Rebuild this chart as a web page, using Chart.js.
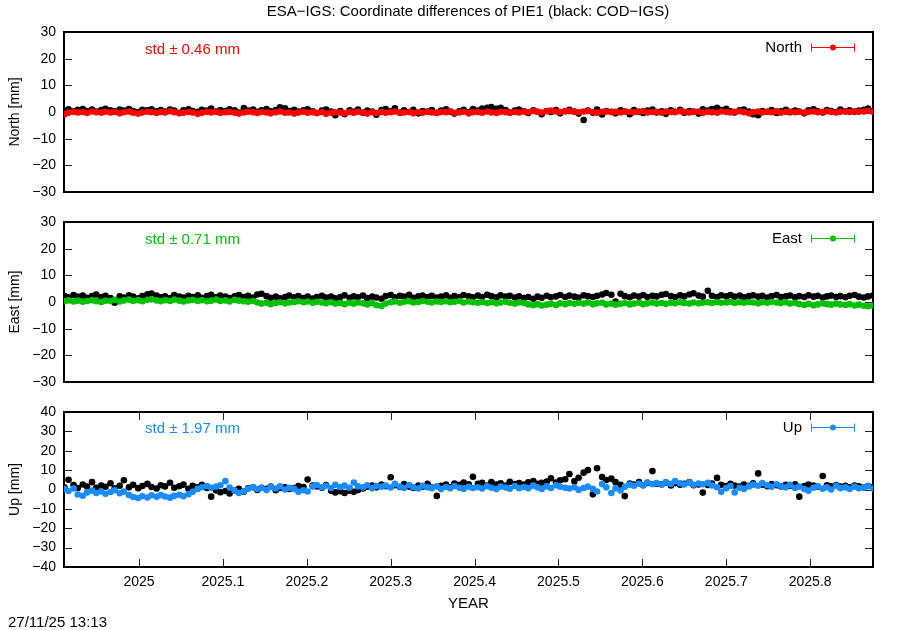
<!DOCTYPE html>
<html><head><meta charset="utf-8">
<script src="https://cdn.jsdelivr.net/npm/chart.js@4.4.1/dist/chart.umd.min.js"></script>
<style>
html,body{margin:0;padding:0;background:#fff;}
#wrap{position:relative;width:900px;height:630px;overflow:hidden;font-family:"Liberation Sans",Arial,sans-serif;font-size:15px;color:#000;}
canvas{position:absolute;left:0;}
.t{position:absolute;white-space:nowrap;line-height:16px;}
</style></head><body>
<div id="wrap">
<canvas id="c1" width="900" height="209" style="top:0px"></canvas>
<canvas id="c2" width="900" height="194" style="top:205px"></canvas>
<canvas id="c3" width="900" height="235" style="top:395px"></canvas>
<div class="t" style="left:468px;top:3px;transform:translateX(-50%)">ESA−IGS: Coordinate differences of PIE1 (black: COD−IGS)</div>
<div class="t" style="left:145px;top:41px;color:#ff0000">std ± 0.46 mm</div>
<div class="t" style="left:145px;top:231px;color:#00c000">std ± 0.71 mm</div>
<div class="t" style="left:145px;top:420px;color:#1a8cff">std ± 1.97 mm</div>
<div class="t" style="right:98px;top:39px">North</div>
<div class="t" style="right:98px;top:230px">East</div>
<div class="t" style="right:98px;top:419px">Up</div>
<div class="t" style="left:8px;top:614px">27/11/25 13:13</div>
</div>
<script>
const years = [
2024.911,2024.916,2024.922,2024.927,2024.933,2024.938,2024.944,2024.949,2024.955,2024.960,
2024.966,2024.971,2024.977,2024.982,2024.988,2024.993,2024.999,2025.004,2025.010,2025.015,
2025.021,2025.026,2025.031,2025.037,2025.042,2025.048,2025.053,2025.059,2025.064,2025.070,
2025.075,2025.081,2025.086,2025.092,2025.097,2025.103,2025.108,2025.114,2025.119,2025.125,
2025.130,2025.136,2025.141,2025.146,2025.152,2025.157,2025.163,2025.168,2025.174,2025.179,
2025.185,2025.190,2025.196,2025.201,2025.207,2025.212,2025.218,2025.223,2025.229,2025.234,
2025.240,2025.245,2025.251,2025.256,2025.261,2025.267,2025.272,2025.278,2025.283,2025.289,
2025.294,2025.300,2025.305,2025.311,2025.316,2025.322,2025.327,2025.333,2025.338,2025.344,
2025.349,2025.355,2025.360,2025.366,2025.371,2025.376,2025.382,2025.387,2025.393,2025.398,
2025.404,2025.409,2025.415,2025.420,2025.426,2025.431,2025.437,2025.442,2025.448,2025.453,
2025.459,2025.464,2025.470,2025.475,2025.480,2025.486,2025.491,2025.497,2025.502,2025.508,
2025.513,2025.519,2025.524,2025.530,2025.535,2025.541,2025.546,2025.552,2025.557,2025.563,
2025.568,2025.574,2025.579,2025.585,2025.590,2025.596,2025.601,2025.606,2025.612,2025.617,
2025.623,2025.628,2025.634,2025.639,2025.645,2025.650,2025.656,2025.661,2025.667,2025.672,
2025.678,2025.683,2025.689,2025.694,2025.700,2025.705,2025.710,2025.716,2025.721,2025.727,
2025.732,2025.738,2025.743,2025.749,2025.754,2025.760,2025.765,2025.771,2025.776,2025.782,
2025.787,2025.793,2025.798,2025.804,2025.809,2025.815,2025.820,2025.825,2025.831,2025.836,
2025.842,2025.847,2025.853,2025.858,2025.864,2025.869,2025.875];

const esaNorth = [
-0.9,-0.3,0.1,-0.2,0.0,-0.4,0.2,-0.1,-0.3,0.1,
-0.2,0.0,-0.5,-0.1,0.2,-0.3,-0.6,-0.2,0.1,-0.1,
-0.4,0.0,-0.2,0.3,-0.1,-0.5,-0.3,0.0,-0.2,-0.7,
-0.3,0.1,-0.2,0.2,-0.4,-0.1,0.0,-0.3,-0.6,-0.2,
0.1,-0.1,-0.4,0.0,-0.2,-0.5,-0.1,0.2,-0.3,-0.2,
-0.6,-0.2,0.1,-0.3,-0.1,-0.4,0.0,-0.7,-0.3,-0.1,
-0.2,-0.5,0.0,-0.3,0.1,-0.2,-0.6,-0.1,-0.4,0.0,
-0.3,-0.1,0.2,-0.4,-0.2,0.0,-0.5,-0.1,-0.3,0.1,
-0.2,-0.4,0.0,-0.1,0.3,-0.3,-0.2,0.1,-0.5,-0.1,
0.0,-0.3,0.2,-0.2,-0.4,0.1,-0.1,-0.3,0.0,-0.2,
0.2,-0.1,0.4,0.1,-0.2,0.3,0.5,0.2,0.0,0.4,
0.3,0.1,-0.1,0.2,0.4,0.0,-0.3,0.1,0.2,-0.1,
0.1,-0.2,0.3,0.0,-0.1,0.2,0.4,-0.2,0.0,0.1,
-0.3,0.2,0.0,-0.1,0.3,0.1,-0.2,0.0,0.2,-0.4,
0.1,-0.1,-0.3,0.2,0.0,-0.2,0.1,0.3,-0.1,-0.5,
0.0,0.2,-0.2,0.1,-0.1,0.3,-0.3,0.0,0.2,-0.1,
0.1,-0.2,0.0,0.2,-0.1,0.1,0.3,0.0,-0.2,0.1,
0.2,0.0,0.3,0.1,0.2,0.4,0.1];

const codNorth = [
0.5,1.0,0.3,0.8,1.1,0.4,0.9,0.2,0.7,1.2,
0.6,0.3,0.9,0.5,1.1,0.4,0.0,0.8,0.6,1.0,
0.3,0.7,0.2,0.9,0.5,-0.3,0.6,1.0,0.4,0.1,
0.8,0.5,1.3,0.2,0.7,0.4,1.0,0.6,-0.2,1.5,
0.5,0.9,0.1,0.6,1.1,0.3,0.7,1.8,1.4,0.4,
0.8,0.2,0.6,1.0,0.3,-0.4,0.5,0.9,0.2,-1.2,
0.4,-0.8,0.6,0.1,0.9,-0.3,0.5,0.2,-1.0,0.7,
1.1,0.3,1.4,-0.2,0.6,0.0,0.8,-0.5,0.4,0.2,
0.7,-0.3,0.5,1.0,0.1,-0.6,0.4,0.8,0.0,1.1,
0.5,1.3,1.6,1.9,1.2,1.6,0.7,-0.2,0.5,0.9,
0.3,-0.4,0.6,0.1,-0.8,0.4,0.0,0.7,-0.5,0.3,
0.8,0.2,-0.6,-3.0,0.5,-0.3,0.9,-0.9,0.4,0.1,
-0.5,0.6,0.2,-0.8,0.7,0.0,-0.4,0.5,0.9,-0.2,
0.3,-0.7,0.6,0.1,0.8,-0.3,0.4,0.2,-0.6,1.0,
0.5,1.1,1.6,0.7,1.2,0.3,-0.2,0.6,0.9,0.2,
-0.8,-1.2,0.4,0.1,0.7,-0.4,0.3,0.8,-0.1,0.5,
0.2,-0.5,0.6,1.0,0.3,-0.2,0.7,0.4,0.0,0.9,
0.3,0.6,0.1,0.5,0.8,1.3,0.4];

const esaEast = [
0.3,0.6,0.2,0.5,0.1,0.4,0.7,0.3,0.0,0.5,
0.4,0.8,0.2,0.6,0.9,0.4,0.7,0.3,0.8,1.0,
0.6,0.3,0.7,0.4,0.9,0.5,0.2,0.6,0.8,0.4,
0.7,0.3,0.5,0.9,0.4,0.6,0.2,0.8,0.5,0.3,
0.1,0.4,-0.2,-0.6,-0.3,-0.8,-0.4,-0.1,-0.5,-0.2,
0.0,0.3,-0.1,0.2,-0.3,0.1,-0.2,-0.5,-0.1,-0.6,
-0.4,-0.8,-0.3,-0.6,-0.2,-0.5,-0.9,-0.4,-1.2,-1.5,
-0.6,-0.1,0.2,-0.3,0.1,0.3,-0.2,0.0,0.4,0.1,
-0.2,0.2,0.0,0.3,-0.1,0.1,0.4,-0.2,0.2,-0.1,
-0.3,0.0,-0.4,-0.1,-0.5,-0.2,0.1,-0.3,-0.6,-0.2,
-0.4,-0.9,-1.2,-0.8,-1.3,-1.0,-0.7,-1.1,-0.5,-0.8,
-0.4,-0.7,-0.3,-0.6,-0.2,-0.8,-0.5,-0.3,-0.9,-0.6,
-1.0,-0.7,-0.4,-0.9,-0.6,-0.3,-0.8,-0.5,-0.2,-0.6,
-0.4,-0.7,-0.3,-0.5,-0.1,-0.4,-0.6,-0.2,-0.5,-0.3,
-0.1,-0.4,0.0,-0.3,-0.2,0.1,-0.4,-0.1,-0.3,0.0,
-0.2,-0.5,-0.1,-0.3,0.1,-0.2,-0.4,-0.1,-0.6,-0.3,
-0.8,-1.1,-0.7,-1.2,-0.9,-0.5,-0.8,-1.0,-0.6,-0.9,
-1.1,-0.8,-1.3,-1.0,-1.4,-1.6,-1.3];

const codEast = [
2.3,1.8,2.6,2.0,2.4,1.6,2.2,2.8,1.9,2.3,
1.5,-0.3,2.1,1.7,2.5,2.0,1.4,2.2,2.9,3.2,
2.4,1.8,2.1,1.5,2.6,2.0,1.7,2.3,1.9,2.5,
1.6,2.2,2.7,1.8,2.4,2.0,1.5,2.1,2.6,1.9,
2.3,1.7,2.8,3.1,2.2,1.6,2.0,1.4,1.9,2.4,
1.8,2.2,1.5,2.0,1.3,1.9,2.3,1.7,2.0,1.4,
1.9,2.5,1.6,2.1,1.8,2.4,1.5,2.0,1.7,1.2,
2.2,2.6,1.8,2.3,2.0,2.7,1.6,2.1,2.4,1.9,
2.3,1.7,2.0,2.5,1.6,2.2,1.9,2.6,2.1,1.8,
2.4,1.9,2.7,2.2,1.8,2.5,2.0,2.3,1.7,2.1,
1.5,1.9,1.2,2.0,1.6,2.3,1.8,2.1,2.6,1.9,
2.4,2.0,1.7,2.5,2.2,1.9,2.3,2.8,3.4,2.7,
0.2,3.1,2.2,1.8,2.4,2.0,2.6,1.9,2.3,2.1,
2.7,3.0,2.2,1.9,2.5,2.1,2.8,3.3,2.4,2.0,
4.2,2.3,1.9,2.5,2.1,2.6,2.0,2.4,1.8,2.2,
2.5,2.0,2.3,1.7,2.2,2.6,1.9,2.1,2.4,1.8,
2.2,1.9,2.5,2.0,2.3,1.7,2.1,2.4,1.9,2.2,
1.8,2.3,2.6,2.0,1.7,2.1,2.4];

const esaUp = [
0.2,-0.8,0.5,-2.6,-3.2,-1.5,-0.6,-1.8,-1.0,-2.2,
-1.3,-0.4,-1.9,-1.1,-2.8,-3.9,-4.4,-3.5,-4.1,-3.0,
-3.8,-2.9,-3.6,-4.2,-3.3,-2.7,-3.5,-2.4,-1.2,0.3,
1.2,1.8,0.9,1.5,2.2,4.3,1.0,-0.6,-1.8,-0.9,
0.4,1.1,0.2,0.8,-0.3,1.3,0.5,1.6,0.0,0.9,
0.3,-1.2,-0.4,-1.0,1.5,2.3,1.2,1.9,0.8,2.4,
1.3,2.0,0.9,3.6,1.7,1.1,2.2,0.6,1.8,1.4,
2.1,1.0,2.9,1.5,0.8,2.3,1.2,0.5,1.9,1.1,
0.7,1.6,0.2,1.3,0.6,1.8,0.9,0.3,1.4,0.8,
1.2,0.5,1.7,0.9,0.2,1.5,1.0,0.4,1.8,0.7,
1.3,0.6,2.0,1.1,0.3,1.6,0.8,2.2,1.4,0.9,
0.5,1.2,-0.2,0.8,1.5,0.3,-1.0,2.8,1.1,-1.8,
0.6,-0.5,1.4,2.5,1.9,3.0,2.2,3.6,2.8,3.3,
2.5,3.9,2.9,4.3,3.2,2.6,3.7,2.4,3.1,2.7,
3.4,2.1,1.2,-1.2,0.7,1.8,-1.5,0.9,0.3,1.6,
2.5,1.9,3.3,2.2,1.4,2.7,1.8,1.1,2.4,0.8,
1.5,0.2,-0.6,0.9,1.7,0.4,1.2,0.0,1.9,0.7,
1.1,0.3,1.5,0.6,0.9,1.8,0.5];

const codUp = [
1.2,5.0,2.3,0.8,2.6,1.5,3.8,0.9,2.1,1.4,
3.2,0.6,1.9,4.8,1.1,2.4,0.7,1.8,2.9,1.3,
0.5,2.2,1.6,3.5,0.9,1.7,2.5,0.4,1.9,1.2,
2.4,0.8,-3.7,-0.5,-1.4,-0.8,-2.0,-0.6,0.3,-1.1,
0.6,1.2,-0.2,0.9,0.4,1.5,-0.4,0.8,1.1,0.2,
0.7,1.8,1.3,5.2,2.1,1.6,0.9,2.3,-0.7,-1.5,
-0.9,-1.8,-0.6,-1.2,-0.3,0.5,1.4,2.0,1.1,2.6,
1.7,6.3,2.2,1.3,2.8,1.5,0.8,2.1,1.4,3.0,
1.0,-3.3,1.9,2.5,1.2,3.1,2.4,3.6,2.7,6.6,
2.9,3.4,2.0,3.8,2.6,3.2,2.1,4.0,2.8,3.3,
2.5,3.7,4.4,2.9,3.5,4.1,5.8,3.6,4.8,5.3,
8.0,4.2,6.1,8.7,10.0,-2.5,11.0,6.4,4.9,5.6,
3.8,2.4,-3.4,3.1,2.6,3.9,2.2,3.4,9.5,3.0,
2.7,3.6,2.1,3.3,2.5,2.9,3.8,2.2,2.6,-1.6,
2.3,3.1,6.0,2.4,1.8,2.9,2.1,1.5,2.6,1.9,
3.2,8.3,2.5,1.7,2.8,2.2,1.6,2.4,1.9,2.7,
-3.7,1.8,2.5,2.0,1.4,7.0,2.2,1.6,2.3,1.5,
1.9,1.2,2.1,1.6,1.0,1.8,1.3];

const xTickValues = [2025, 2025.1, 2025.2, 2025.3, 2025.4, 2025.5, 2025.6, 2025.7, 2025.8];
const yTicksNorthEast = [-30, -20, -10, 0, 10, 20, 30];
const yTicksUp = [-40, -30, -20, -10, 0, 10, 20, 30, 40];
const xRange = [2024.9106, 2025.8749];

Chart.defaults.font.family = '"Liberation Sans", Arial, sans-serif';
Chart.defaults.font.size = 14;
Chart.defaults.color = '#000';

const pts = arr => years.map((x, i) => ({x: x, y: arr[i]}));
const fmt = v => String(v).replace('-', '\u2212');

const framePlugin = {
  id: 'framePlugin',
  beforeDatasetsDraw(chart, args, o) {
    const {ctx, chartArea: a, scales} = chart;
    ctx.save();
    ctx.strokeStyle = '#222';
    ctx.lineWidth = 1;
    ctx.beginPath();
    scales.y.ticks.forEach(t => {
      const p = Math.round(scales.y.getPixelForValue(t.value)) + 0.5;
      ctx.moveTo(a.left, p); ctx.lineTo(a.left + 8, p);
      ctx.moveTo(a.right - 8, p); ctx.lineTo(a.right, p);
    });
    if (o.xTicks) {
      scales.x.ticks.forEach(t => {
        const p = Math.round(scales.x.getPixelForValue(t.value)) + 0.5;
        ctx.moveTo(p, a.bottom); ctx.lineTo(p, a.bottom - 8);
        ctx.moveTo(p, a.top); ctx.lineTo(p, a.top + 8);
      });
    }
    ctx.stroke();
    ctx.strokeStyle = '#000';
    ctx.lineWidth = 2;
    ctx.strokeRect(a.left, a.top, a.right - a.left, a.bottom - a.top);
    ctx.restore();
  },
  afterDatasetsDraw(chart, args, o) {
    const ctx = chart.ctx;
    const y = o.legendY + 0.5;
    ctx.save();
    ctx.strokeStyle = o.color;
    ctx.fillStyle = o.color;
    ctx.lineWidth = 1;
    ctx.beginPath();
    ctx.moveTo(811, y); ctx.lineTo(855, y);
    ctx.moveTo(811.5, y - 4); ctx.lineTo(811.5, y + 4);
    ctx.moveTo(854.5, y - 4); ctx.lineTo(854.5, y + 4);
    ctx.stroke();
    ctx.beginPath();
    ctx.arc(833, y, 3, 0, Math.PI * 2);
    ctx.fill();
    ctx.restore();
  }
};

function makePanel(id, esa, cod, color, yTicks, title, padTop, padBottom, legendY, bottom) {
  const xScale = {
    type: 'linear', min: xRange[0], max: xRange[1],
    display: !!bottom,
    grid: {display: false, drawTicks: false},
    border: {display: false},
    afterBuildTicks: s => { s.ticks = xTickValues.map(v => ({value: v})); },
    ticks: {padding: 7, maxRotation: 0, autoSkip: false, callback: v => String(v)},
    title: {display: true, text: 'YEAR', font: {size: 15}, padding: {top: 0, bottom: 17}}
  };
  if (bottom) xScale.afterFit = s => { s.height = 63; };
  return new Chart(document.getElementById(id), {
    type: 'scatter',
    data: {
      datasets: [
        {label: title, data: pts(esa), backgroundColor: color, borderColor: color, pointRadius: 3.3, pointBorderWidth: 0, pointHoverRadius: 3.3, order: 0},
        {label: 'COD', data: pts(cod), backgroundColor: '#000', borderColor: '#000', pointRadius: 3.3, pointBorderWidth: 0, pointHoverRadius: 3.3, order: 1}
      ]
    },
    options: {
      responsive: false, animation: false, devicePixelRatio: 1,
      events: [],
      layout: {padding: {left: 0, right: 27, top: padTop, bottom: padBottom}},
      plugins: {legend: {display: false}, tooltip: {enabled: false}, title: {display: false},
        framePlugin: {xTicks: !!bottom, legendY: legendY, color: color}},
      scales: {
        x: xScale,
        y: {
          type: 'linear', min: yTicks[0], max: yTicks[yTicks.length - 1],
          grid: {display: false, drawTicks: false},
          border: {display: false},
          afterBuildTicks: s => { s.ticks = yTicks.map(v => ({value: v})); },
          ticks: {padding: 8, autoSkip: false, callback: fmt},
          title: {display: true, text: title + ' [mm]', padding: {top: 7, bottom: 0}},
          afterFit: s => { s.width = 64; }
        }
      }
    },
    plugins: [framePlugin]
  });
}

makePanel('c1', esaNorth, codNorth, '#ff0000', yTicksNorthEast, 'North', 32, 17, 47, false);
makePanel('c2', esaEast, codEast, '#00c000', yTicksNorthEast, 'East', 17, 17, 33, false);
makePanel('c3', esaUp, codUp, '#1a8cff', yTicksUp, 'Up', 17, 0, 32, true);
</script>
</body></html>
